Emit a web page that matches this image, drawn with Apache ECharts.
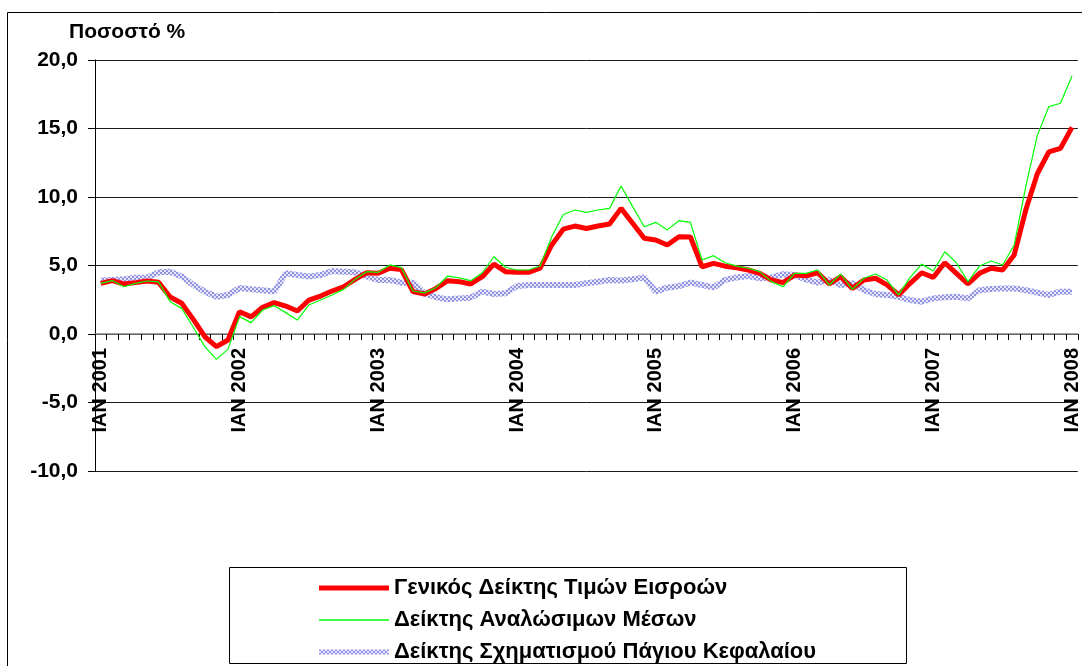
<!DOCTYPE html>
<html>
<head>
<meta charset="utf-8">
<script src="https://cdn.jsdelivr.net/npm/echarts@6/dist/echarts.min.js"></script>
<style>
  html, body { margin: 0; padding: 0; background: #fff; }
  #chart { width: 1082px; height: 666px; }
</style>
</head>
<body>
<div id="chart"></div>
<script>
// μηνιαίες τιμές, Ιαν 2001 - Ιαν 2008
var years = [2001, 2002, 2003, 2004, 2005, 2006, 2007, 2008];
var yTicks = [-10, -5, 0, 5, 10, 15, 20];

var genikos = [
    3.7, 3.9, 3.65, 3.75, 3.87, 3.77, 2.7, 2.24, 1.07, -0.2, -0.92, -0.44,
    1.63, 1.25, 1.95, 2.29, 2.04, 1.68, 2.48, 2.77, 3.14, 3.45, 3.99, 4.47,
    4.43, 4.8, 4.7, 3.09, 2.92, 3.33, 3.89, 3.82, 3.65, 4.18, 5.1, 4.55,
    4.5, 4.5, 4.8, 6.5, 7.65, 7.88, 7.7, 7.88, 8.03, 9.17, 8.08, 6.99,
    6.86, 6.5, 7.1, 7.08, 4.91, 5.16, 4.95, 4.84, 4.67, 4.43, 3.94, 3.75,
    4.3, 4.25, 4.47, 3.65, 4.18, 3.33, 3.94, 4.07, 3.58, 2.85, 3.7, 4.47,
    4.13, 5.2, 4.43, 3.65, 4.43, 4.8, 4.67, 5.77, 9.05, 11.7, 13.3, 13.55,
    15.08
];

var analosima = [
    3.7, 3.9, 3.45, 3.7, 3.87, 3.8, 2.36, 1.87, 0.49, -0.92, -1.85, -1.12,
    1.27, 0.83, 1.75, 2.07, 1.56, 1.02, 2.12, 2.48, 2.85, 3.26, 3.99, 4.55,
    4.5, 5.04, 4.85, 3.14, 3.0, 3.4, 4.23, 4.1, 3.89, 4.47, 5.64, 4.87,
    4.67, 4.67, 4.96, 7.1, 8.72, 9.05, 8.88, 9.05, 9.17, 10.8, 9.3, 7.83,
    8.15, 7.6, 8.27, 8.15, 5.4, 5.72, 5.2, 4.96, 4.8, 4.55, 3.82, 3.45,
    4.43, 4.43, 4.67, 3.58, 4.38, 3.26, 4.07, 4.38, 3.94, 2.85, 4.13, 5.1,
    4.6, 6.0, 5.2, 3.82, 4.96, 5.33, 5.04, 6.5, 10.75, 14.5, 16.6, 16.84,
    18.83
];

var pagio = [
    3.9, 3.95, 4.0, 4.1, 4.1, 4.5, 4.55, 4.2, 3.58, 3.1, 2.72, 2.85,
    3.35, 3.26, 3.2, 3.1, 4.43, 4.3, 4.2, 4.3, 4.6, 4.55, 4.5, 4.2,
    3.94, 3.94, 3.75, 3.75, 2.97, 2.68, 2.53, 2.6, 2.65, 3.09, 2.92, 2.97,
    3.5, 3.58, 3.58, 3.58, 3.58, 3.58, 3.7, 3.82, 3.94, 3.9, 4.0, 4.13,
    3.09, 3.38, 3.5, 3.75, 3.58, 3.4, 3.95, 4.13, 4.23, 4.07, 4.13, 4.36,
    4.3, 3.99, 3.75, 3.94, 3.58, 3.7, 3.2, 2.92, 2.85, 2.72, 2.48, 2.36,
    2.6, 2.68, 2.72, 2.6, 3.2, 3.28, 3.33, 3.33, 3.2, 3.02, 2.85, 3.09,
    3.09
];

var seriesNames = [
    'Γενικός Δείκτης Τιμών Εισροών',
    'Δείκτης Αναλώσιμων Μέσων',
    'Δείκτης Σχηματισμού Πάγιου Κεφαλαίου'
];

// κατηγορίες μηνών
var months = [];
years.forEach(function (y) {
    for (var m = 1; m <= 12; m++) {
        if (y === 2008 && m > 1) break;
        months.push(m === 1 ? 'IAN ' + y : m + '/' + y);
    }
});

// μοτίβο για τη γραμμή του πάγιου κεφαλαίου
var patCanvas = document.createElement('canvas');
patCanvas.width = 4;
patCanvas.height = 4;
var pctx = patCanvas.getContext('2d');
pctx.fillStyle = '#e6e6fb';
pctx.fillRect(0, 0, 4, 4);
pctx.fillStyle = '#9393e6';
pctx.fillRect(0, 0, 2, 2);
pctx.fillRect(2, 2, 2, 2);
var bluePattern = { image: patCanvas, repeat: 'repeat' };

var font = 'Liberation Sans, Arial, sans-serif';

var chart = echarts.init(document.getElementById('chart'));
chart.setOption({
    animation: false,
    backgroundColor: '#fff',
    textStyle: { fontFamily: font },
    grid: { left: 95, top: 60, width: 983, height: 411, containLabel: false },
    legend: {
        left: 314,
        top: 572,
        orient: 'vertical',
        itemWidth: 70,
        itemHeight: 14,
        itemGap: 10,
        height: 92,
        data: [
            { name: seriesNames[0], icon: 'path://M0,0H70V5H0Z', itemStyle: { color: '#ff0000' } },
            { name: seriesNames[1], icon: 'path://M0,0H70V1.6H0Z', itemStyle: { color: '#00ff00' } },
            { name: seriesNames[2], icon: 'path://M0,0H70V5H0Z', itemStyle: { color: bluePattern } }
        ],
        textStyle: { fontSize: 22, lineHeight: 22, fontWeight: 'bold', color: '#000', fontFamily: font }
    },
    xAxis: {
        type: 'category',
        data: months,
        boundaryGap: true,
        offset: -137,
        axisLine: { onZero: false, lineStyle: { color: '#808080', width: 1.5 } },
        axisTick: { show: true, interval: 0, length: 6, lineStyle: { color: '#000' } },
        axisLabel: {
            interval: 11,
            rotate: 90,
            margin: 14,
            fontSize: 20,
            fontWeight: 'bold',
            color: '#000',
            fontFamily: font
        },
        splitLine: { show: false }
    },
    yAxis: {
        type: 'value',
        min: -10,
        max: 20,
        interval: 5,
        axisLine: { show: true, lineStyle: { color: '#000' } },
        axisTick: { show: true, length: 7, lineStyle: { color: '#000' } },
        axisLabel: {
            margin: 17,
            fontSize: 21,
            fontWeight: 'bold',
            color: '#000',
            fontFamily: font,
            formatter: function (v) { return v.toFixed(1).replace('.', ','); }
        },
        splitLine: { show: true, lineStyle: { color: '#1a1a1a', width: 1 } }
    },
    graphic: [
        {
            type: 'rect',
            shape: { x: 7.5, y: 12.5, width: 1100, height: 700 },
            style: { fill: 'none', stroke: '#000', lineWidth: 1 },
            silent: true,
            z: -1
        },
        {
            type: 'rect',
            shape: { x: 229.5, y: 567.5, width: 677, height: 96 },
            style: { fill: 'none', stroke: '#000', lineWidth: 1 },
            silent: true
        },
        {
            type: 'text',
            left: 69,
            top: 22,
            style: { text: 'Ποσοστό %', font: 'bold 21px ' + font, fill: '#000' }
        }
    ],
    series: [
        {
            name: seriesNames[2],
            type: 'line',
            data: pagio,
            symbol: 'none',
            z: 1,
            lineStyle: { color: bluePattern, width: 6 },
            itemStyle: { color: '#9a9ae8' }
        },
        {
            name: seriesNames[0],
            type: 'line',
            data: genikos,
            symbol: 'none',
            z: 2,
            lineStyle: { color: '#ff0000', width: 5 },
            itemStyle: { color: '#ff0000' }
        },
        {
            name: seriesNames[1],
            type: 'line',
            data: analosima,
            symbol: 'none',
            z: 3,
            lineStyle: { color: '#00ff00', width: 1.2 },
            itemStyle: { color: '#00ff00' }
        }
    ]
});
</script>
</body>
</html>
